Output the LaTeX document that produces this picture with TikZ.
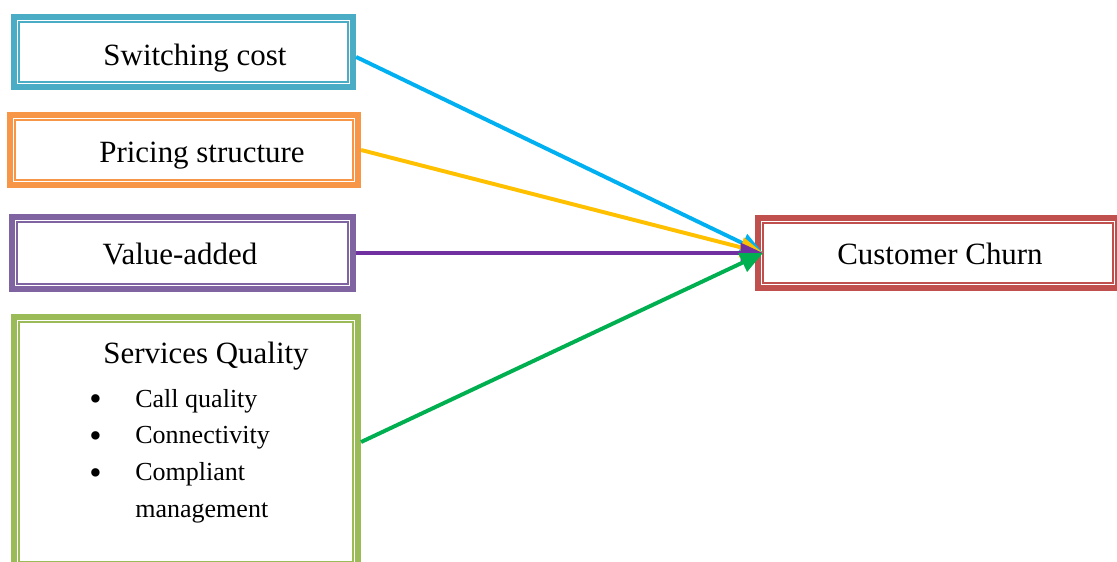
\documentclass[tikz,border=0pt]{standalone}
\usepackage{fontspec}
\setmainfont{Liberation Serif}
\usetikzlibrary{arrows.meta}

\definecolor{swcol}{HTML}{4BACC6}
\definecolor{prcol}{HTML}{F79646}
\definecolor{vacol}{HTML}{8064A2}
\definecolor{sqcol}{HTML}{9BBB59}
\definecolor{chcol}{HTML}{C0504D}
\definecolor{swarr}{HTML}{00B0F0}
\definecolor{prarr}{HTML}{FFC000}
\definecolor{vaarr}{HTML}{7030A0}
\definecolor{sqarr}{HTML}{00B050}

\newcommand{\bigdot}{\raisebox{-2.5pt}{\fontsize{25}{26}\selectfont\textbullet}}

\tikzset{
  factor/.style={draw=#1, line width=4.3pt, rectangle, inner sep=0pt},
  label/.style={anchor=base, font=\fontsize{22}{26}\selectfont},
  link/.style={draw=#1, line width=2.8pt, -{Triangle[length=16pt,width=14pt]}}
}

\begin{document}
\begin{tikzpicture}[x=0.025cm,y=-0.025cm]

      \useasboundingbox (0,0) rectangle (1117,561);
      \clip (0,0) rectangle (1117,561);

      \node[factor=swcol, minimum width=8.475cm, minimum height=1.75cm] (sw) at (183.5,52)  {};
      \node[factor=prcol, minimum width=8.7cm,   minimum height=1.75cm] (pr) at (184,150)   {};
      \node[factor=vacol, minimum width=8.525cm, minimum height=1.8cm]  (va) at (182.5,253) {};
      \node[factor=sqcol, minimum width=8.6cm,   minimum height=6.25cm] (sq) at (186,442)   {};
      \node[factor=chcol, minimum width=9cm,     minimum height=1.75cm] (ch) at (938,253)   {};

      % thin inner frames
      \foreach \n/\c in {sw/swcol,pr/prcol,va/vacol,sq/sqcol,ch/chcol}
        \draw[\c, line width=1.1pt] ([shift={(8,8)}]\n.north west) rectangle ([shift={(-8,-8)}]\n.south east);

      \node[label] (swtxt) at (195,65)  {Switching cost};
      \node[label] (prtxt) at (202,162) {Pricing structure};
      \node[label] (vatxt) at (180,264) {Value-added};
      \node[label] (chtxt) at (940,264) {Customer Churn};
      \node[label] (sqtxt) at (206,363) {Services Quality};

      \node[anchor=base west, inner sep=0pt, font=\fontsize{18.5}{26.2}\selectfont] (sqlist) at (89,407) {%
        \begin{tabular}[t]{@{}l@{\hspace{24pt}}l@{}}
          \bigdot & Call quality\\
          \bigdot & Connectivity\\
          \bigdot & Compliant\\
                  & management
        \end{tabular}};

      \coordinate (tip) at (763,253);

      \path[link=swarr] ([yshift=-3.5pt]sw.east) -- (tip);
      \path[link=prarr] (pr.east) -- (tip);
      \path[link=vaarr] (va.east) -- (tip);
      \path[link=sqarr] (sq.east) -- (tip);

    \end{tikzpicture}
\end{document}
